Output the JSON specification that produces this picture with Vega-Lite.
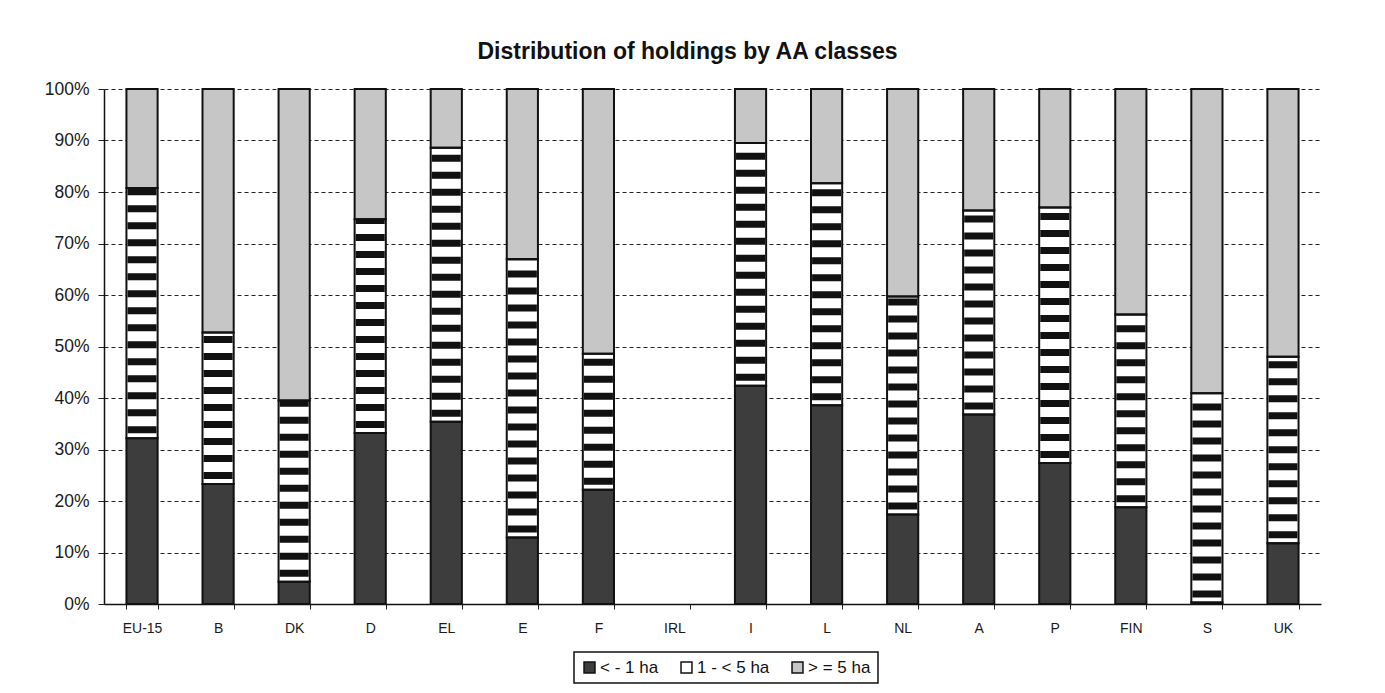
{
  "$schema": "https://vega.github.io/schema/vega-lite/v6.json",
  "autosize": {"type": "none"},
  "padding": {"left": 104, "top": 89, "right": 64, "bottom": 89},
  "width": 1217,
  "height": 515,
  "background": "white",
  "title": {
    "text": "Distribution of holdings by AA classes",
    "font": "Liberation Sans",
    "fontSize": 23,
    "fontWeight": "bold",
    "color": "#111",
    "anchor": "middle",
    "dx": -25,
    "offset": 16
  },
  "config": {
    "view": {"stroke": null},
    "font": "Liberation Sans",
    "legend": {"strokeColor": "#111", "strokeWidth": 1.5}
  },
  "data": {
    "values": [
      {"country": "EU-15", "cls": "< - 1 ha", "ord": 1, "v": 32.2},
      {"country": "EU-15", "cls": "1 - < 5 ha", "ord": 2, "v": 48.6},
      {"country": "EU-15", "cls": "> = 5 ha", "ord": 3, "v": 19.2},
      {"country": "B", "cls": "< - 1 ha", "ord": 1, "v": 23.3},
      {"country": "B", "cls": "1 - < 5 ha", "ord": 2, "v": 29.4},
      {"country": "B", "cls": "> = 5 ha", "ord": 3, "v": 47.3},
      {"country": "DK", "cls": "< - 1 ha", "ord": 1, "v": 4.3},
      {"country": "DK", "cls": "1 - < 5 ha", "ord": 2, "v": 35.2},
      {"country": "DK", "cls": "> = 5 ha", "ord": 3, "v": 60.5},
      {"country": "D", "cls": "< - 1 ha", "ord": 1, "v": 33.2},
      {"country": "D", "cls": "1 - < 5 ha", "ord": 2, "v": 41.5},
      {"country": "D", "cls": "> = 5 ha", "ord": 3, "v": 25.3},
      {"country": "EL", "cls": "< - 1 ha", "ord": 1, "v": 35.4},
      {"country": "EL", "cls": "1 - < 5 ha", "ord": 2, "v": 53.2},
      {"country": "EL", "cls": "> = 5 ha", "ord": 3, "v": 11.4},
      {"country": "E", "cls": "< - 1 ha", "ord": 1, "v": 12.9},
      {"country": "E", "cls": "1 - < 5 ha", "ord": 2, "v": 54.1},
      {"country": "E", "cls": "> = 5 ha", "ord": 3, "v": 33.0},
      {"country": "F", "cls": "< - 1 ha", "ord": 1, "v": 22.2},
      {"country": "F", "cls": "1 - < 5 ha", "ord": 2, "v": 26.4},
      {"country": "F", "cls": "> = 5 ha", "ord": 3, "v": 51.4},
      {"country": "I", "cls": "< - 1 ha", "ord": 1, "v": 42.4},
      {"country": "I", "cls": "1 - < 5 ha", "ord": 2, "v": 47.1},
      {"country": "I", "cls": "> = 5 ha", "ord": 3, "v": 10.5},
      {"country": "L", "cls": "< - 1 ha", "ord": 1, "v": 38.6},
      {"country": "L", "cls": "1 - < 5 ha", "ord": 2, "v": 43.1},
      {"country": "L", "cls": "> = 5 ha", "ord": 3, "v": 18.3},
      {"country": "NL", "cls": "< - 1 ha", "ord": 1, "v": 17.4},
      {"country": "NL", "cls": "1 - < 5 ha", "ord": 2, "v": 42.3},
      {"country": "NL", "cls": "> = 5 ha", "ord": 3, "v": 40.3},
      {"country": "A", "cls": "< - 1 ha", "ord": 1, "v": 36.8},
      {"country": "A", "cls": "1 - < 5 ha", "ord": 2, "v": 39.6},
      {"country": "A", "cls": "> = 5 ha", "ord": 3, "v": 23.6},
      {"country": "P", "cls": "< - 1 ha", "ord": 1, "v": 27.4},
      {"country": "P", "cls": "1 - < 5 ha", "ord": 2, "v": 49.6},
      {"country": "P", "cls": "> = 5 ha", "ord": 3, "v": 23.0},
      {"country": "FIN", "cls": "< - 1 ha", "ord": 1, "v": 18.8},
      {"country": "FIN", "cls": "1 - < 5 ha", "ord": 2, "v": 37.4},
      {"country": "FIN", "cls": "> = 5 ha", "ord": 3, "v": 43.8},
      {"country": "S", "cls": "< - 1 ha", "ord": 1, "v": 0.3},
      {"country": "S", "cls": "1 - < 5 ha", "ord": 2, "v": 40.6},
      {"country": "S", "cls": "> = 5 ha", "ord": 3, "v": 59.1},
      {"country": "UK", "cls": "< - 1 ha", "ord": 1, "v": 11.8},
      {"country": "UK", "cls": "1 - < 5 ha", "ord": 2, "v": 36.2},
      {"country": "UK", "cls": "> = 5 ha", "ord": 3, "v": 52.0}
    ]
  },
  "transform": [
    {"stack": "v", "groupby": ["country"], "sort": [{"field": "ord", "order": "ascending"}], "as": ["v0", "v1"]}
  ],
  "encoding": {
    "x": {
      "field": "country",
      "type": "nominal",
      "scale": {
        "domain": ["EU-15", "B", "DK", "D", "EL", "E", "F", "IRL", "I", "L", "NL", "A", "P", "FIN", "S", "UK"],
        "paddingInner": 0.59,
        "paddingOuter": 0.295
      },
      "axis": {
        "title": null,
        "labelAngle": 0,
        "labelFont": "Liberation Sans",
        "labelFontSize": 14,
        "labelColor": "#1a1a1a",
        "labelPadding": 12,
        "tickBand": "extent",
        "tickSize": 5,
        "tickColor": "#222",
        "domainColor": "#111",
        "domainWidth": 1.5,
        "grid": false
      }
    },
    "y": {
      "field": "v0",
      "type": "quantitative",
      "scale": {"domain": [0, 100], "nice": false},
      "axis": {
        "title": null,
        "values": [0, 10, 20, 30, 40, 50, 60, 70, 80, 90, 100],
        "labelExpr": "datum.value + '%'",
        "labelFont": "Liberation Sans",
        "labelFontSize": 17.5,
        "labelColor": "#1a1a1a",
        "labelPadding": 9,
        "tickSize": 6,
        "tickColor": "#222",
        "domainColor": "#111",
        "domainWidth": 1.5,
        "grid": true,
        "gridColor": "#222",
        "gridDash": [4, 3],
        "gridWidth": 1.2
      }
    },
    "y2": {"field": "v1"}
  },
  "layer": [
    {
      "mark": {"type": "bar"},
      "encoding": {
        "fill": {
          "field": "cls",
          "type": "nominal",
          "scale": {
            "domain": ["< - 1 ha", "1 - < 5 ha", "> = 5 ha"],
            "range": ["#3d3d3d", "#ffffff", "#c6c6c6"]
          },
          "legend": {
            "title": null,
            "orient": "none",
            "legendX": 470,
            "legendY": 563,
            "direction": "horizontal",
            "symbolType": "square",
            "symbolSize": 120,
            "symbolStrokeColor": "#111",
            "symbolStrokeWidth": 1.5,
            "symbolOpacity": 1,
            "labelFont": "Liberation Sans",
            "labelFontSize": 17,
            "labelColor": "#111",
            "labelOffset": 2,
            "columnPadding": 19,
            "padding": 7
          }
        }
      }
    },
    {
      "transform": [{"filter": "datum.ord === 2"}],
      "mark": {"type": "rule", "color": "#111", "strokeWidth": 29, "strokeDash": [7, 10], "strokeDashOffset": 12, "strokeCap": "butt"},
      "encoding": {}
    },
    {
      "mark": {"type": "bar", "fill": "transparent", "stroke": "#111", "strokeWidth": 2},
      "encoding": {}
    }
  ]
}
